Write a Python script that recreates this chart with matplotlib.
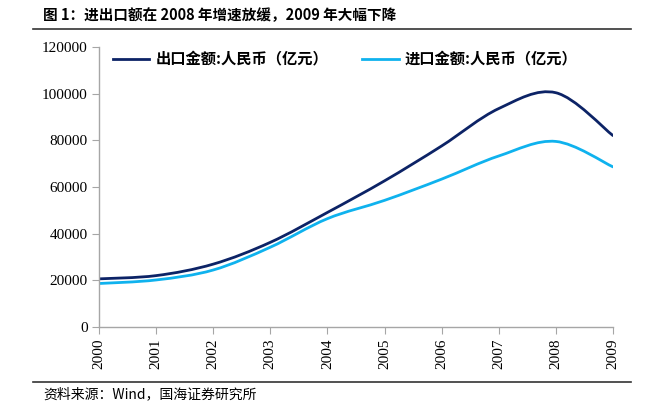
import numpy as np
import matplotlib
matplotlib.use('Agg')
import matplotlib.pyplot as plt
from matplotlib.path import Path
from matplotlib.patches import PathPatch
from matplotlib.lines import Line2D

years = [2000, 2001, 2002, 2003, 2004, 2005, 2006, 2007, 2008, 2009]
export_vals = [20634, 22024, 26948, 36288, 49103, 62648, 77598, 93627, 100395, 82030]
import_vals = [18639, 20159, 24430, 34196, 46436, 54274, 63377, 73300, 79527, 68618]
yticks = [0, 20000, 40000, 60000, 80000, 100000, 120000]

cjk = ['Noto Sans CJK SC', 'DejaVu Sans']
serif = ['Liberation Serif', 'DejaVu Serif']
c_exp = '#0c2366'
c_imp = '#0fb2ee'


def smooth_path(x, y):
    # bezier like excel smoothed line
    x = np.asarray(x, float)
    y = np.asarray(y, float)
    n = len(x)
    verts = [(x[0], y[0])]
    codes = [Path.MOVETO]
    for i in range(n - 1):
        i0 = max(i - 1, 0)
        i3 = min(i + 2, n - 1)
        c1 = (x[i] + (x[i + 1] - x[i0]) / 6, y[i] + (y[i + 1] - y[i0]) / 6)
        c2 = (x[i + 1] - (x[i3] - x[i]) / 6, y[i + 1] - (y[i3] - y[i]) / 6)
        verts += [c1, c2, (x[i + 1], y[i + 1])]
        codes += [Path.CURVE4] * 3
    return Path(verts, codes)


fig = plt.figure(figsize=(6.5, 4.09), dpi=100)
ax = fig.add_axes([99 / 650, 82 / 409, 514 / 650, 280 / 409])

for vals, col in [(export_vals, c_exp), (import_vals, c_imp)]:
    ax.add_patch(PathPatch(smooth_path(years, vals), fill=False, edgecolor=col,
                           lw=2.0, capstyle='round', joinstyle='round'))

ax.set_xlim(2000, 2009)
ax.set_ylim(0, 120000)
ax.set_xticks(years)
ax.set_xticklabels([str(v) for v in years], rotation=90, family=serif, fontsize=11)
ax.set_yticks(yticks)
ax.set_yticklabels([str(v) for v in yticks], family=serif, fontsize=11)
for s in ['top', 'right']:
    ax.spines[s].set_visible(False)
for s in ['left', 'bottom']:
    ax.spines[s].set_color('#a6a6a6')
    ax.spines[s].set_linewidth(1.0)
ax.tick_params(axis='both', direction='out', length=5, color='#a6a6a6', pad=3)

handles = [Line2D([], [], color=c_exp, lw=2.0), Line2D([], [], color=c_imp, lw=2.0)]
ax.legend(handles, ['出口金额:人民币（亿元）', '进口金额:人民币（亿元）'],
          loc='upper left', bbox_to_anchor=(0.0, 1.035), ncol=2, frameon=False,
          prop={'family': cjk, 'size': 11, 'weight': 'bold'},
          handlelength=2.4, handletextpad=0.4, columnspacing=2.2)

fig.text(43 / 650, 1 - 15 / 409, '图 1：进出口额在 2008 年增速放缓，2009 年大幅下降',
         family=['Noto Sans CJK SC', 'DejaVu Sans'], fontsize=10.5, weight='bold',
         va='center', ha='left')
fig.add_artist(Line2D([33 / 650, 631 / 650], [1 - 29 / 409] * 2, color='#333333', lw=1.2))
fig.add_artist(Line2D([33 / 650, 631 / 650], [1 - 382 / 409] * 2, color='#333333', lw=1.2))
fig.text(43 / 650, 1 - 394 / 409, '资料来源：Wind，国海证券研究所', family=cjk,
         fontsize=10, va='center', ha='left')

fig.savefig('out.png', dpi=100)
